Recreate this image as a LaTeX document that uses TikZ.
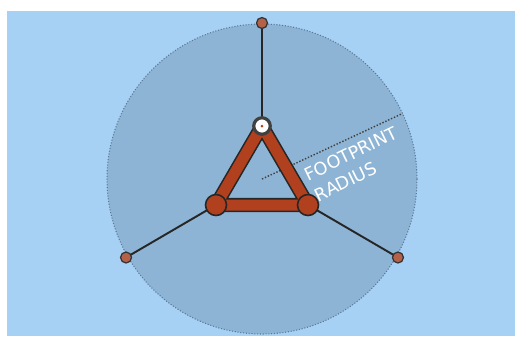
\documentclass[tikz,border=0pt]{standalone}
\usepackage{fontspec}
\setsansfont{DejaVu Sans}
\usetikzlibrary{positioning,calc}
\definecolor{sky}{HTML}{A6D1F4}
\definecolor{reach}{HTML}{8DB4D4}
\definecolor{rim}{HTML}{5A7896}
\definecolor{brick}{HTML}{B0401E}
\definecolor{toe}{HTML}{B5614A}

\begin{document}
\begin{tikzpicture}[
  x=0.02cm, y=-0.02cm,
  footprint/.style = {fill=reach, draw=rim, densely dotted, line width=0.6pt},
  radius/.style    = {draw=black!75, densely dotted, line width=0.8pt},
  leg/.style       = {draw=black!85, line width=1.1pt},
  frame/.style     = {draw=black!85, line width=0.9pt, double=brick,
                      double distance=0.22cm, line join=round},
  joint/.style     = {circle, draw=black!85, line width=0.9pt, fill=brick,
                      minimum size=0.42cm, inner sep=0pt},
  hub/.style       = {circle, draw=black!75, line width=1.8pt, fill=white,
                      minimum size=0.33cm, inner sep=0pt},
  foot/.style      = {circle, draw=black!80, line width=0.7pt, fill=toe,
                      minimum size=0.22cm, inner sep=0pt},
  note/.style      = {font=\sffamily\fontsize{10}{13}\selectfont, text=white,
                      align=left, inner sep=0pt},
]
\fill[white] (0,0) rectangle (515,336);
\fill[sky] (7,11) rectangle (515,336);

\coordinate (c) at (262,179);
\draw[footprint] (c) circle (155);
\coordinate (edge) at ($(c)+(-25:155)$);
\draw[radius] (c) -- (edge);

\coordinate (pt) at (262,126);
\coordinate (pl) at (216,205);
\coordinate (pr) at (308,205);
\coordinate (qt) at ($(c)+(-90:156)$);
\coordinate (ql) at ($(c)+(150:157)$);
\coordinate (qr) at ($(c)+(30:157)$);

\draw[leg] (pt) -- (qt);
\draw[leg] (pl) -- (ql);
\draw[leg] (pr) -- (qr);
\draw[frame] (pt) -- (pl) -- (pr) -- cycle;

\node[hub]   (jt) at (pt) {};
\node[joint] (jl) at (pl) {};
\node[joint] (jr) at (pr) {};
\fill[brick] (jt) circle (0.03cm);
\node[foot] (ft) at (qt) {};
\node[foot] (fl) at (ql) {};
\node[foot] (fr) at (qr) {};

\node[note, rotate=26] (lbl) at (356,164) {FOOTPRINT\\RADIUS};
\end{tikzpicture}
\end{document}
